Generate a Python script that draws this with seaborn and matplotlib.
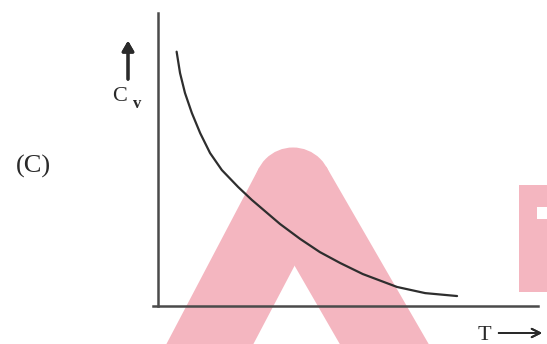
import matplotlib
matplotlib.use('Agg')
import matplotlib.pyplot as plt
import seaborn as sns
import numpy as np
import pandas as pd
from matplotlib.patches import Rectangle, Polygon, Circle

sns.set_style('white')
plt.rcParams['font.family'] = ['Liberation Serif', 'DejaVu Serif']

# curve (T and Cv in arbitrary units, axes end at 10)
T = [0.49, 0.58, 0.71, 0.89, 1.11, 1.37, 1.68, 2.11, 2.47, 2.84, 3.21, 3.74,
     4.26, 4.79, 5.39, 6.29, 7.03, 7.87]
Cv = [8.68, 7.95, 7.27, 6.59, 5.90, 5.22, 4.64, 4.06, 3.62, 3.21, 2.80, 2.29,
      1.84, 1.47, 1.09, 0.65, 0.44, 0.34]
panel_label = '(C)'
x_label = 'T'
y_label = 'C'
y_sub = 'v'

df = pd.DataFrame({'T': T, 'Cv': Cv})

W, H = 547, 344
fig = plt.figure(figsize=(W / 100, H / 100), dpi=100)

# background layer in pixel coords for the watermark
bg = fig.add_axes([0, 0, 1, 1], zorder=0)
bg.set_xlim(0, W)
bg.set_ylim(H, 0)
bg.axis('off')
pink = '#F4B6C0'


def leg(a, b, half):
    a, b = np.array(a, float), np.array(b, float)
    d = (b - a) / np.linalg.norm(b - a)
    n = np.array([d[1], -d[0]]) * half
    return Polygon([a + n, a - n, b - n, b + n], closed=True, color=pink, lw=0)


apex = (293, 186)
bg.add_patch(leg(apex, (191, 380), 38.5))
bg.add_patch(leg(apex, (405, 380), 38.5))
bg.add_patch(Circle(apex, 38.5, color=pink, lw=0))
bg.add_patch(Rectangle((519, 185), 40, 107, color=pink, lw=0))
bg.add_patch(Rectangle((537, 207), 20, 12, color='white', lw=0))

# main chart axes: origin at pixel (158, 306)
x0, x1 = 153, 538
y0, y1 = 306, 13
ax = fig.add_axes([x0 / W, (H - y0) / H, (x1 - x0) / W, (y0 - y1) / H], zorder=1)
ax.patch.set_alpha(0)
xmin = -(158 - x0) / ((x1 - 158) / 10)
ax.set_xlim(xmin, 10)
ax.set_ylim(0, 10)

sns.lineplot(data=df, x='T', y='Cv', ax=ax, sort=False, color='#2e2e2e', lw=1.6,
             solid_joinstyle='round')

for s in ['top', 'right']:
    ax.spines[s].set_visible(False)
for s in ['left', 'bottom']:
    ax.spines[s].set_color('#4a4a4a')
    ax.spines[s].set_linewidth(1.8)
ax.spines['left'].set_position(('data', 0))
ax.set_xticks([])
ax.set_yticks([])
ax.set_xlabel('')
ax.set_ylabel('')

# labels in figure pixels
def fy(y):
    return H - y

fig.text(33 / W, fy(166) / H, panel_label, fontsize=19, ha='center', va='center', color='#2a2a2a')
fig.text(120 / W, fy(96) / H, y_label, fontsize=16, ha='center', va='center', color='#2a2a2a')
fig.text(137 / W, fy(104) / H, y_sub, fontsize=12, ha='center', va='center',
         color='#2a2a2a', fontweight='bold')
fig.text(484 / W, fy(335) / H, x_label, fontsize=16, ha='center', va='center', color='#2a2a2a')

fig.add_artist(plt.annotate('', xy=(128, fy(38)), xytext=(128, fy(82)),
                            xycoords='figure pixels', textcoords='figure pixels',
                            arrowprops=dict(arrowstyle='-|>,head_width=0.35,head_length=0.6',
                                            color='#2a2a2a', lw=2.2)))
fig.add_artist(plt.annotate('', xy=(545, fy(333)), xytext=(496, fy(333)),
                            xycoords='figure pixels', textcoords='figure pixels',
                            arrowprops=dict(arrowstyle='->,head_width=0.3,head_length=0.6',
                                            color='#2a2a2a', lw=1.4)))

fig.savefig('out.png', dpi=100)
